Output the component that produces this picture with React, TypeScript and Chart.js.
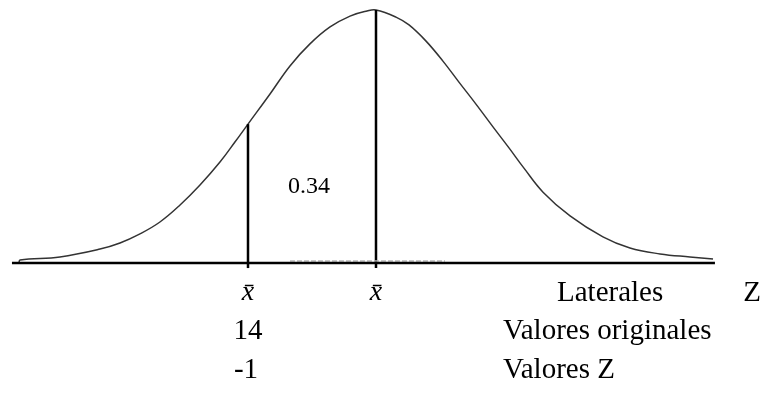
import React, { useEffect, useRef } from "react";
import { Chart, registerables } from "chart.js";

Chart.register(...registerables);

// Curve: z (standard units) and relative height (peak = 1)
const curveZ = [
  -2.789, -2.781, -2.469, -2.156, -2.0, -1.844, -1.688, -1.531, -1.375, -1.219, -1.102, -1.0,
  -0.828, -0.672, -0.516, -0.359, -0.203, -0.07, 0, 0.156, 0.258, 0.391, 0.523, 0.648, 0.781,
  0.914, 1.039, 1.156, 1.305, 1.516, 1.773, 1.984, 2.219, 2.453, 2.633,
];
const curveH = [
  0, 0.012, 0.024, 0.055, 0.079, 0.115, 0.162, 0.229, 0.308, 0.399, 0.478, 0.549,
  0.668, 0.779, 0.866, 0.933, 0.976, 0.996, 1.0, 0.972, 0.941, 0.877, 0.798, 0.715, 0.628,
  0.538, 0.455, 0.375, 0.28, 0.186, 0.103, 0.059, 0.036, 0.024, 0.016,
];

// Baseline extent (z)
const baselineZ = [-2.844, 2.648];
// Marked positions (z) and the heights where their lines end
const markZ = [-1, 0];
const markTop = [0.549, 1.0];
const markBottom = -0.02;
// Shaded (dashed) area on the baseline
const dashedZ = [-0.672, 0.539];
const dashedH = 0.008;

// Texts
const areaLabel = "0.34";
const meanLabel = "x\u0304";
const rowTitles = ["Laterales", "Valores originales", "Valores Z"];
const zTitle = "Z";
const originalValue = "14";
const zValue = "-1";

const W = 773;
const H = 396;
const SERIF = "'Liberation Serif', 'Times New Roman', serif";

export default function App() {
  const ref = useRef<HTMLCanvasElement | null>(null);

  useEffect(() => {
    if (!ref.current) return;
    const textPlugin = {
      id: "texts",
      afterDraw(chart: any) {
        const ctx = chart.ctx;
        const xs = chart.scales.x;
        const ys = chart.scales.y;
        const px = (z: number) => xs.getPixelForValue(z);
        const py = (h: number) => ys.getPixelForValue(h);
        ctx.save();
        ctx.fillStyle = "#000";
        ctx.textBaseline = "middle";
        // area label
        ctx.font = `24px ${SERIF}`;
        ctx.textAlign = "center";
        ctx.fillText(areaLabel, px(-0.523), py(0.3));
        const r1 = py(-0.1186);
        const r2 = py(-0.2688);
        const r3 = py(-0.4229);
        ctx.font = `italic 28px ${SERIF}`;
        ctx.fillText(meanLabel, px(markZ[0]), r1);
        ctx.fillText(meanLabel, px(markZ[1]), r1);
        ctx.font = `29px ${SERIF}`;
        ctx.fillText(zTitle, px(2.9375), r1);
        ctx.fillText(originalValue, px(markZ[0]), r2);
        ctx.fillText(zValue, px(markZ[0]) - 2, r3);
        ctx.textAlign = "left";
        ctx.fillText(rowTitles[0], px(1.414), r1);
        ctx.fillText(rowTitles[1], px(0.992), r2);
        ctx.fillText(rowTitles[2], px(0.992), r3);
        ctx.restore();
      },
    };

    const curve = curveZ.map((z, i) => ({ x: z, y: curveH[i] }));
    const chart = new Chart(ref.current, {
      type: "scatter",
      data: {
        datasets: [
          {
            data: [
              { x: baselineZ[0], y: 0 },
              { x: baselineZ[1], y: 0 },
            ],
            showLine: true,
            borderColor: "#000",
            borderWidth: 2.5,
            pointRadius: 0,
          },
          {
            data: [
              { x: dashedZ[0], y: dashedH },
              { x: dashedZ[1], y: dashedH },
            ],
            showLine: true,
            borderColor: "#b8b8b8",
            borderWidth: 1.5,
            borderDash: [5, 2],
            pointRadius: 0,
          },
          ...markZ.map((z, i) => ({
            data: [
              { x: z, y: markBottom },
              { x: z, y: markTop[i] },
            ],
            showLine: true,
            borderColor: "#000",
            borderWidth: 2.5,
            pointRadius: 0,
          })),
          {
            data: curve,
            showLine: true,
            borderColor: "#333",
            borderWidth: 1.5,
            pointRadius: 0,
            tension: 0.4,
          },
        ],
      },
      options: {
        responsive: false,
        animation: false,
        devicePixelRatio: 1,
        layout: { padding: 0 },
        plugins: { legend: { display: false }, tooltip: { enabled: false } },
        scales: {
          x: { type: "linear", min: -2.9375, max: 3.1016, display: false },
          y: { type: "linear", min: -0.52569, max: 1.03953, display: false },
        },
      } as any,
      plugins: [textPlugin],
    } as any);
    return () => chart.destroy();
  }, []);

  return (
    <div style={{ position: "fixed", left: 0, top: 0, width: W, height: H, background: "#fff" }}>
      <canvas ref={ref} width={W} height={H} style={{ display: "block", width: W, height: H }} />
    </div>
  );
}
